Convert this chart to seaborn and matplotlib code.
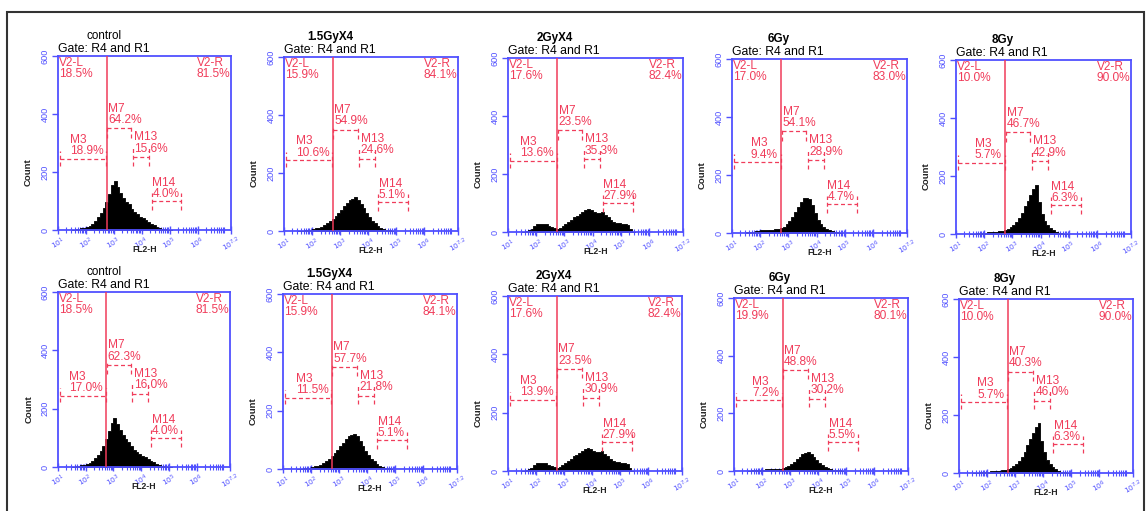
import numpy as np
import pandas as pd
import matplotlib
matplotlib.use("Agg")
import matplotlib.pyplot as plt
from matplotlib.patches import Rectangle
import seaborn as sns

sns.set_theme(style="white")
plt.rcParams['font.family'] = ['Liberation Sans', 'DejaVu Sans']

# ---------------- data ----------------
titles = ["control", "1.5GyX4", "2GyX4", "6Gy", "8Gy"]
gate_text = "Gate: R4 and R1"

# histogram counts, bins of 0.1 decade starting at 10^1.5
bin_start = 1.5
bin_width = 0.1

top_control = [0, 2, 4, 6, 8, 11, 15, 22, 32, 45, 58, 75, 98, 125, 155, 170, 148, 128, 112, 98,
               88, 74, 62, 54, 46, 40, 34, 27, 22, 17, 12, 8, 4, 2, 1, 0]
top_15gy = [0, 0, 2, 4, 5, 7, 9, 12, 15, 20, 26, 33, 42, 52, 62, 74, 86, 96, 106, 112,
            116, 108, 94, 78, 62, 48, 36, 26, 18, 12, 7, 4, 2, 0]
top_2gy = [0, 2, 6, 12, 20, 26, 29, 28, 26, 22, 17, 13, 11, 14, 20, 28, 35, 42, 50, 56,
           63, 70, 76, 80, 76, 70, 66, 64, 68, 58, 50, 42, 36, 32, 30, 28, 26, 24, 12, 0]
top_6gy = [2, 3, 4, 6, 8, 9, 10, 11, 12, 12, 13, 14, 16, 22, 32, 42, 55, 72, 90, 108,
           120, 122, 116, 95, 70, 46, 30, 20, 14, 10, 6, 4, 2, 0]
top_8gy = [0, 1, 2, 3, 4, 5, 6, 6, 7, 8, 9, 11, 14, 18, 24, 32, 42, 56, 74, 95,
           115, 135, 155, 168, 110, 70, 45, 30, 20, 13, 8, 5, 3, 1, 0]

bot_control = [0, 2, 4, 6, 8, 11, 15, 21, 30, 42, 56, 72, 95, 122, 150, 168, 146, 126, 110, 96,
               86, 72, 60, 52, 45, 39, 33, 26, 21, 16, 11, 7, 4, 2, 1, 0]
bot_15gy = [0, 0, 2, 4, 5, 7, 9, 12, 15, 20, 26, 34, 44, 55, 66, 78, 90, 102, 112, 118,
            120, 112, 96, 80, 62, 48, 36, 26, 18, 12, 7, 4, 2, 0]
bot_2gy = [0, 2, 6, 12, 20, 26, 29, 28, 26, 22, 17, 13, 11, 14, 20, 28, 35, 42, 50, 56,
           63, 70, 76, 80, 76, 70, 66, 64, 68, 58, 50, 42, 36, 32, 30, 28, 26, 24, 12, 0]
bot_6gy = [1, 2, 3, 4, 5, 5, 6, 6, 7, 7, 8, 8, 10, 13, 18, 24, 32, 40, 50, 58,
           64, 66, 60, 50, 38, 28, 20, 14, 10, 7, 5, 3, 2, 0]
bot_8gy = [0, 1, 2, 3, 4, 5, 6, 6, 7, 8, 9, 11, 14, 18, 24, 32, 42, 56, 74, 96,
           118, 138, 158, 172, 112, 72, 46, 30, 20, 13, 8, 5, 3, 1, 0]

hist_rows = [[top_control, top_15gy, top_2gy, top_6gy, top_8gy],
             [bot_control, bot_15gy, bot_2gy, bot_6gy, bot_8gy]]

v2l_rows = [["18.5%", "15.9%", "17.6%", "17.0%", "10.0%"],
            ["18.5%", "15.9%", "17.6%", "19.9%", "10.0%"]]
v2r_rows = [["81.5%", "84.1%", "82.4%", "83.0%", "90.0%"],
            ["81.5%", "84.1%", "82.4%", "80.1%", "90.0%"]]
m3_rows = [["18.9%", "10.6%", "13.6%", "9.4%", "5.7%"],
           ["17.0%", "11.5%", "13.9%", "7.2%", "5.7%"]]
m7_rows = [["64.2%", "54.9%", "23.5%", "54.1%", "46.7%"],
           ["62.3%", "57.7%", "23.5%", "48.8%", "40.3%"]]
m13_rows = [["15.6%", "24.6%", "35.3%", "28.9%", "42.9%"],
            ["16.0%", "21.8%", "30.9%", "30.2%", "46.0%"]]
m14_rows = [["4.0%", "5.1%", "27.9%", "4.7%", "6.3%"],
            ["4.0%", "5.1%", "27.9%", "5.5%", "6.3%"]]

x_ticks = [1, 2, 3, 4, 5, 6, 7.2]
x_tick_labels = [r"$10^{1}$", r"$10^{2}$", r"$10^{3}$", r"$10^{4}$", r"$10^{5}$", r"$10^{6}$", r"$10^{7.2}$"]
y_ticks = [0, 200, 400, 600]
y_tick_labels = ["0", "200", "400", "600"]

# ---------------- layout (pixel boxes: left, top, right, bottom) ----------------
W, H = 1146, 511
boxes = [[(58, 56, 231, 230), (284, 57, 458, 231), (508, 58, 683, 232), (732, 59, 907, 233), (956, 60, 1131, 234)],
         [(58, 292, 230, 467), (283, 294, 457, 469), (508, 296, 682, 471), (734, 298, 908, 471), (959, 299, 1133, 473)]]

BLUE = "#5050ff"
RED = "#f03c5a"
V2 = 2.74

fig = plt.figure(figsize=(W / 100, H / 100), dpi=100)
fig.patch.set_facecolor("white")

dash = (0, (3.2, 2.2))

def gate(ax, x0, x1, y, t0, t1):
    ax.plot([x0, x1], [y, y], color=RED, lw=0.9, ls=dash, zorder=4)
    for xx in (x0, x1):
        ax.plot([xx, xx], [t0, t1], color=RED, lw=0.9, ls=dash, zorder=4)

for r in range(2):
    for c in range(5):
        l, t, rr, b = boxes[r][c]
        ax = fig.add_axes([l / W, 1 - b / H, (rr - l) / W, (b - t) / H])
        counts = np.array(hist_rows[r][c], dtype=float)
        edges = bin_start + bin_width * np.arange(len(counts) + 1)
        centers = (edges[:-1] + edges[1:]) / 2
        df = pd.DataFrame({"fl2": centers, "n": counts})
        sns.histplot(data=df, x="fl2", weights="n", bins=edges.tolist(), element="step", fill=True,
                     color="black", alpha=1.0, linewidth=0.6, ax=ax)
        ax.set_xlim(1, 7.2)
        ax.set_ylim(0, 600)
        ax.set_xlabel("")
        ax.set_ylabel("")
        for s in ax.spines.values():
            s.set_color(BLUE)
            s.set_linewidth(1.3)
            s.set_visible(True)
        ax.set_xticks(x_ticks)
        ax.set_xticklabels(x_tick_labels, fontsize=5.4, color=BLUE, rotation=30, ha="center")
        minor = [np.log10(k * 10 ** d) for d in range(1, 7) for k in range(2, 10)]
        minor = [m for m in minor if m < 7.2]
        ax.set_xticks(minor, minor=True)
        ax.set_yticks(y_ticks)
        ax.set_yticklabels(y_tick_labels, fontsize=6.6, color=BLUE, rotation=90, va="center")
        ax.tick_params(axis="x", which="major", direction="inout", length=6, width=1.0, color=BLUE, pad=0.5, bottom=True)
        ax.tick_params(axis="x", which="minor", direction="inout", length=4, width=0.8, color=BLUE, bottom=True)
        ax.tick_params(axis="y", which="major", direction="out", length=4, width=1.0, color=BLUE, pad=2, left=True)
        ax.grid(False)

        # V2 marker
        ax.axvline(V2, color=RED, lw=1.1, zorder=5)
        fs = 8.6
        ax.text(1.02, 597, "V2-L\n" + v2l_rows[r][c], color=RED, fontsize=fs, va="top", ha="left", linespacing=0.9)
        ax.text(7.17, 597, "V2-R\n" + v2r_rows[r][c], color=RED, fontsize=fs, va="top", ha="right",
                multialignment="left", linespacing=0.9)
        # gates
        gate(ax, 1.06, 2.72, 245, 222, 272)
        gate(ax, 2.76, 3.62, 350, 318, 358)
        gate(ax, 3.68, 4.26, 250, 222, 288)
        gate(ax, 4.36, 5.42, 100, 68, 128)
        ax.text(2.62, 250, "M3\n" + m3_rows[r][c], color=RED, fontsize=fs, va="bottom", ha="right",
                multialignment="left", linespacing=0.9, zorder=6)
        ax.text(2.79, 358, "M7\n" + m7_rows[r][c], color=RED, fontsize=fs, va="bottom", ha="left",
                linespacing=0.9, zorder=6)
        ax.text(3.73, 260, "M13\n" + m13_rows[r][c], color=RED, fontsize=fs, va="bottom", ha="left",
                linespacing=0.9, zorder=6)
        ax.text(4.38, 104, "M14\n" + m14_rows[r][c], color=RED, fontsize=fs, va="bottom", ha="left",
                linespacing=0.9, zorder=6)

        # titles & labels
        ax.text(0.0, 1.022, gate_text, transform=ax.transAxes, fontsize=8.8, color="black",
                ha="left", va="baseline")
        ax.text(0.265, 1.098, titles[c], transform=ax.transAxes, fontsize=8.4,
                fontweight="normal" if c == 0 else "bold", color="black", ha="center", va="baseline")
        ax.text(0.5, -0.112, "FL2-H", transform=ax.transAxes, fontsize=6.2, fontweight="bold",
                color="#222222", ha="center", va="center")
        ax.text(-0.17, 0.33, "Count", transform=ax.transAxes, fontsize=6.8, fontweight="bold",
                color="#222222", ha="center", va="center", rotation=90)

fig.add_artist(Rectangle((7 / W, -0.05), (1144 - 7) / W, 1 - 12 / H + 0.05, transform=fig.transFigure,
                         fill=False, edgecolor="#333333", linewidth=1.5))

fig.savefig("out.png", dpi=100, facecolor="white")
